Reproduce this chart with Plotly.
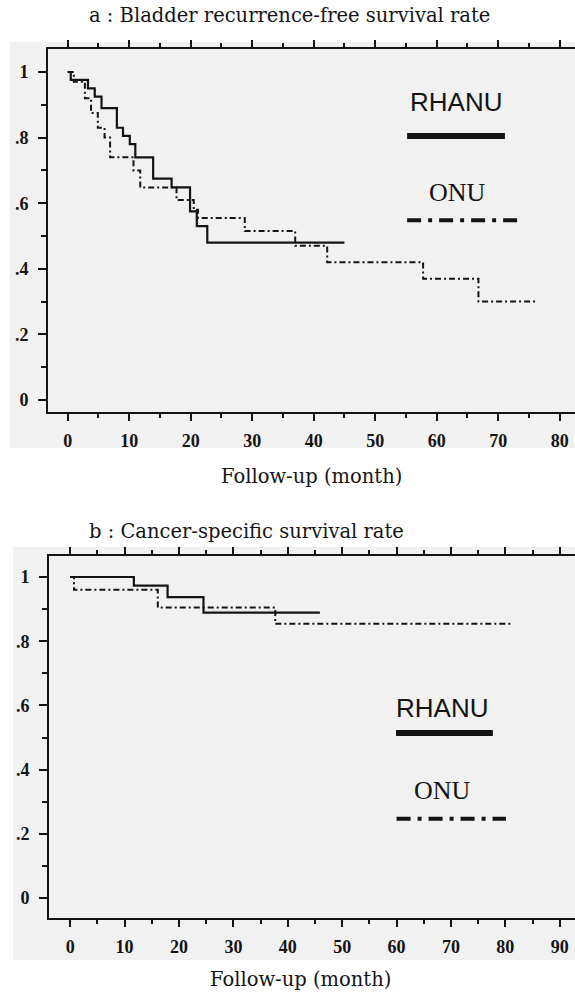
import plotly.graph_objects as go

W, H = 575, 994

# ---------------- data ----------------
# Panel a: bladder recurrence-free survival
a_rhanu_t = [0, 0.5, 3.3, 4.4, 5.5, 8.0, 9.0, 10.1, 11.0, 13.9, 16.9, 19.9, 21.0, 22.7, 45.0]
a_rhanu_s = [1.0, 0.976, 0.95, 0.925, 0.89, 0.83, 0.805, 0.78, 0.74, 0.675, 0.648, 0.575, 0.53, 0.48, 0.48]
a_onu_t = [0, 1.0, 2.8, 3.8, 4.9, 6.0, 6.9, 10.7, 11.8, 17.7, 20.5, 21.2, 28.8, 37.0, 42.2, 57.8, 66.8, 76.3]
a_onu_s = [1.0, 0.97, 0.92, 0.875, 0.83, 0.80, 0.74, 0.70, 0.648, 0.61, 0.58, 0.555, 0.515, 0.47, 0.42, 0.37, 0.30, 0.30]

# Panel b: cancer-specific survival
b_rhanu_t = [0, 11.7, 17.9, 24.5, 45.9]
b_rhanu_s = [1.0, 0.973, 0.937, 0.889, 0.889]
b_onu_t = [0, 0.7, 16.1, 37.7, 81.4]
b_onu_s = [1.0, 0.96, 0.905, 0.854, 0.854]

x_ticks_a = [0, 10, 20, 30, 40, 50, 60, 70, 80]
x_ticks_b = [0, 10, 20, 30, 40, 50, 60, 70, 80, 90]
y_tick_vals = [0, 0.2, 0.4, 0.6, 0.8, 1.0]
y_tick_text = ["0", ".2", ".4", ".6", ".8", "1"]

groups = ["RHANU", "ONU"]
titles = ["a : Bladder recurrence-free survival rate", "b : Cancer-specific survival rate"]
xlabel = "Follow-up (month)"

# ---------------- styling / layout helpers ----------------
INK = "#141414"
BG = "#f1f1f1"
DASHDOT = "6px,3px,2px,3px"

def px_dom_x(left, right):
    return [left / W, right / W]

def px_dom_y(top, bottom):
    return [1 - bottom / H, 1 - top / H]

fig = go.Figure()

fig.add_trace(go.Scatter(x=a_rhanu_t, y=a_rhanu_s, mode="lines", line_shape="hv",
                         line=dict(color=INK, width=2.2), xaxis="x", yaxis="y", showlegend=False))
fig.add_trace(go.Scatter(x=a_onu_t, y=a_onu_s, mode="lines", line_shape="hv",
                         line=dict(color=INK, width=2, dash=DASHDOT), xaxis="x", yaxis="y", showlegend=False))
fig.add_trace(go.Scatter(x=b_rhanu_t, y=b_rhanu_s, mode="lines", line_shape="hv",
                         line=dict(color=INK, width=2.2), xaxis="x2", yaxis="y2", showlegend=False))
fig.add_trace(go.Scatter(x=b_onu_t, y=b_onu_s, mode="lines", line_shape="hv",
                         line=dict(color=INK, width=2, dash=DASHDOT), xaxis="x2", yaxis="y2", showlegend=False))

tickfont = dict(family="Liberation Serif, DejaVu Serif, serif", size=18, color=INK, weight="bold")

def xaxis_cfg(dom, rng, ticks):
    return dict(domain=dom, range=rng, tickvals=ticks, ticktext=[str(t) for t in ticks],
                showline=True, linecolor=INK, linewidth=2, mirror="ticks",
                ticks="outside", ticklen=7, tickwidth=2, tickcolor=INK,
                minor=dict(dtick=5, tick0=0, ticks="outside", ticklen=4, tickwidth=2, tickcolor=INK),
                showgrid=False, zeroline=False, tickfont=tickfont, ticklabelstandoff=4,
                fixedrange=True)

def yaxis_cfg(dom, rng):
    return dict(domain=dom, range=rng, tickvals=y_tick_vals, ticktext=y_tick_text,
                showline=True, linecolor=INK, linewidth=2, mirror=False,
                ticks="outside", ticklen=8, tickwidth=2, tickcolor=INK,
                minor=dict(dtick=0.1, tick0=0, ticks="outside", ticklen=5, tickwidth=2, tickcolor=INK),
                showgrid=False, zeroline=False, tickfont=tickfont, ticklabelstandoff=6,
                fixedrange=True)

# geometry in pixels (y=1 / y=0 pixel rows and axis frame)
A_TOP, A_BOT, A_LEFT = 49, 412, 48
A_Y1, A_Y0 = 72, 400
B_TOP, B_BOT, B_LEFT = 556, 918, 49
B_Y1, B_Y0 = 577, 898

def yrange(top, bot, y1, y0):
    ppu = y0 - y1
    return [-(bot - y0) / ppu, 1 + (y1 - top) / ppu]

fig.update_layout(
    width=W, height=H,
    margin=dict(l=0, r=0, t=0, b=0),
    paper_bgcolor="white",
    plot_bgcolor=BG,
    xaxis={**xaxis_cfg(px_dom_x(A_LEFT, W), [-3.2, 82.5], x_ticks_a), "anchor": "y"},
    yaxis={**yaxis_cfg(px_dom_y(A_TOP, A_BOT), yrange(A_TOP, A_BOT, A_Y1, A_Y0)), "anchor": "x"},
    xaxis2={**xaxis_cfg(px_dom_x(B_LEFT, W), [-3.9, 92.8], x_ticks_b), "anchor": "y2"},
    yaxis2={**yaxis_cfg(px_dom_y(B_TOP, B_BOT), yrange(B_TOP, B_BOT, B_Y1, B_Y0)), "anchor": "x2"},
)

# light gray scanned panels behind each chart
for (x0, y0, x1, y1) in [(10, 42, W, 448), (13, 547, W, 960)]:
    fig.add_shape(type="rect", xref="paper", yref="paper",
                  x0=x0 / W, x1=x1 / W, y0=1 - y1 / H, y1=1 - y0 / H,
                  fillcolor=BG, line=dict(width=0), layer="below")

serif = "DejaVu Serif, Liberation Serif, serif"
for text, xc, yc, size in [(titles[0], 289, 16, 19.5), (xlabel, 311, 476, 19.5),
                           (titles[1], 247, 531, 19.5), (xlabel, 300, 979, 19.5)]:
    fig.add_annotation(text=text, xref="paper", yref="paper", x=xc / W, y=1 - yc / H,
                       xanchor="center", yanchor="middle", showarrow=False,
                       font=dict(family=serif, size=size, color=INK))

sans = "Liberation Sans, Arial, sans-serif"
leg = [
    ("x", "y", 63.1, 0.91, 0.805, 55.2, 71.1, 63.4, 0.634, 0.548, 55.2, 73.2),
    ("x2", "y2", 68.4, 0.593, 0.514, 59.9, 77.7, 68.4, 0.335, 0.247, 60.0, 80.1),
]
for xr, yr, rx, ry, rly, rx0, rx1, ox, oy, oly, ox0, ox1 in leg:
    fig.add_annotation(text=groups[0], xref=xr, yref=yr, x=rx, y=ry, showarrow=False,
                       xanchor="center", yanchor="middle",
                       font=dict(family=sans, size=26, color=INK))
    fig.add_shape(type="line", xref=xr, yref=yr, x0=rx0, x1=rx1, y0=rly, y1=rly,
                  line=dict(color=INK, width=6))
    fig.add_annotation(text=groups[1], xref=xr, yref=yr, x=ox, y=oy, showarrow=False,
                       xanchor="center", yanchor="middle",
                       font=dict(family="Liberation Serif, serif", size=26, color=INK))
    fig.add_shape(type="line", xref=xr, yref=yr, x0=ox0, x1=ox1, y0=oly, y1=oly,
                  line=dict(color=INK, width=4, dash="14px,7px,4px,7px"))

fig.write_html("out.html", config={"displayModeBar": False},
               post_script="document.body.style.margin='0';document.body.style.overflow='hidden';")
